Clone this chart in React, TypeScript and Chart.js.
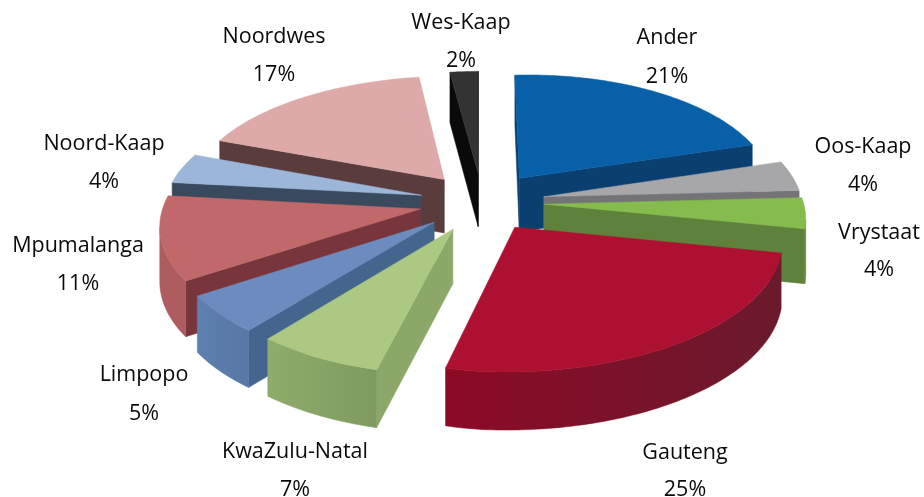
import React, { useEffect, useRef } from "react";
import Chart from "chart.js/auto";

const categories = ["Ander", "Oos-Kaap", "Vrystaat", "Gauteng", "KwaZulu-Natal", "Limpopo", "Mpumalanga", "Noord-Kaap", "Noordwes", "Wes-Kaap"];
const shares = [21, 4, 4, 25, 7, 5, 11, 4, 17, 2];

const topColors = ["#0860A8", "#A7A7A9", "#86BC4E", "#AD1030", "#ACC882", "#6C8CC0", "#C0686A", "#9CB6DA", "#DDA9A9", "#333333"];
const cutColors = ["#0A3F70", "#747476", "#5E813C", "#8A0A24", "#8CA868", "#44658E", "#78363C", "#3A4A5E", "#5A3C3C", "#0A0A0A"];
const wallLeft = ["#0A4F88", "#8A8A8A", "#6A9040", "#8C0A26", "#90AC6C", "#5E80B0", "#AE5C60", "#7F97B9", "#B88888", "#111111"];
const wallRight = ["#0A4F88", "#8A8A8A", "#5E813C", "#6A1A2C", "#7E9A5E", "#5777A4", "#AE5C60", "#7F97B9", "#B88888", "#111111"];

// back-to-front painting order
const paintOrder = [9, 8, 0, 1, 7, 2, 6, 5, 4, 3];

// label anchors [x, y of name, y of value]
const labelAnchors = [
  [667, 38, 77], [863, 147, 185], [879, 233, 270], [685, 453, 490], [295, 452, 490],
  [144, 375, 414], [78, 246, 284], [104, 144, 182], [274, 37, 75], [461, 23, 61],
];

// perspective camera
const CX = 482, CY = 202, RADIUS = 230, SX_RIGHT = 1.115, SX_LEFT = 1.118, SY = 0.525;
const SHEAR_RIGHT = 0.025, SHEAR_LEFT = 0.008, PERSP_X_RIGHT = 0.0006, PERSP_X_LEFT = 0.00045, PERSP_Y = 0.00052, DEPTH = 54, DEPTH_PERSP = 0.00025;

type P = { X: number; Y: number };
const project = (u: number, v: number, down: boolean): P => {
  const X = CX + (u < 0 ? (SX_LEFT * u) / (1 + PERSP_X_LEFT * v) : (SX_RIGHT * u) / (1 + PERSP_X_RIGHT * v));
  const Y = CY - (SY * v) / (1 + PERSP_Y * v) - (u < 0 ? SHEAR_LEFT : SHEAR_RIGHT) * (X - CX);
  return { X, Y: down ? Y + DEPTH / (1 + DEPTH_PERSP * v) : Y };
};

const pie3d = {
  id: "pie3d",
  beforeDatasetsDraw(chart: any) {
    const ctx: CanvasRenderingContext2D = chart.ctx;
    const arcs = chart.getDatasetMeta(0).data;
    const poly = (pts: P[], fill: any) => {
      ctx.beginPath();
      pts.forEach((p, i) => (i ? ctx.lineTo(p.X, p.Y) : ctx.moveTo(p.X, p.Y)));
      ctx.closePath();
      ctx.fillStyle = fill;
      ctx.strokeStyle = fill;
      ctx.lineWidth = 0.5;
      ctx.fill();
      ctx.stroke();
    };
    paintOrder.forEach((i) => {
      const arc = arcs[i];
      const { startAngle, endAngle, outerRadius } = arc.getProps(["startAngle", "endAngle", "outerRadius"], true);
      const k = RADIUS / outerRadius;
      const off = arc.options.offset * k;
      const mid = (startAngle + endAngle) / 2;
      const au = Math.cos(mid) * off, av = -Math.sin(mid) * off;
      const n = Math.max(6, Math.round(((endAngle - startAngle) * 180) / Math.PI));
      const rim: [number, number][] = [];
      for (let j = 0; j <= n; j++) {
        const a = startAngle + ((endAngle - startAngle) * j) / n;
        rim.push([au + RADIUS * Math.cos(a), av - RADIUS * Math.sin(a)]);
      }
      const apexT = project(au, av, false);
      const apexB = project(au, av, true);
      const midRim = rim[Math.floor(n / 2)];
      const midT = project(midRim[0], midRim[1], false);
      const facing = (a: P, b: P, c: P) => {
        const cross = (b.X - a.X) * (c.Y - a.Y) - (b.Y - a.Y) * (c.X - a.X);
        const down = b.X - a.X;
        return cross * down < 0; // interior above the edge: face is visible
      };
      // cut faces
      [rim[0], rim[n]].forEach((r) => {
        const t = project(r[0], r[1], false);
        if (facing(apexT, t, midT)) poly([apexT, t, project(r[0], r[1], true), apexB], cutColors[i]);
      });
      // outer wall
      const upper: P[] = [], lower: P[] = [];
      for (let j = 0; j < n; j++) {
        const a = project(rim[j][0], rim[j][1], false);
        const b = project(rim[j + 1][0], rim[j + 1][1], false);
        if (facing(a, b, apexT)) {
          if (!upper.length) { upper.push(a); lower.push(project(rim[j][0], rim[j][1], true)); }
          upper.push(b);
          lower.push(project(rim[j + 1][0], rim[j + 1][1], true));
        }
      }
      if (upper.length) {
        const xs = upper.map((p) => p.X);
        const g = ctx.createLinearGradient(Math.min(...xs), 0, Math.max(...xs) + 0.01, 0);
        g.addColorStop(0, wallLeft[i]);
        g.addColorStop(1, wallRight[i]);
        poly([...upper, ...lower.reverse()], g);
      }
      // top face
      poly([apexT, ...rim.map((r) => project(r[0], r[1], false))], topColors[i]);
    });
    return false;
  },
  afterDraw(chart: any) {
    const ctx: CanvasRenderingContext2D = chart.ctx;
    ctx.save();
    ctx.fillStyle = "#0A0A0A";
    ctx.font = '21.5px "Open Sans"';
    ctx.textAlign = "center";
    ctx.textBaseline = "middle";
    categories.forEach((name, i) => {
      const [x, y1, y2] = labelAnchors[i];
      ctx.fillText(name, x, y1);
      ctx.fillText(`${shares[i]}%`, x, y2);
    });
    ctx.restore();
  },
};

export default function App() {
  const ref = useRef<HTMLCanvasElement>(null);
  useEffect(() => {
    const chart = new Chart(ref.current!, {
      type: "pie",
      data: {
        labels: categories,
        datasets: [{ data: shares, backgroundColor: topColors, borderWidth: 0, offset: 54 }],
      },
      options: {
        animation: false,
        responsive: false,
        plugins: { legend: { display: false }, tooltip: { enabled: false } },
      },
      plugins: [pie3d],
    } as any);
    return () => chart.destroy();
  }, []);
  return (
    <canvas
      ref={ref}
      width={924}
      height={497}
      style={{ position: "absolute", left: 0, top: 0, width: 924, height: 497, background: "#fff" }}
    />
  );
}
